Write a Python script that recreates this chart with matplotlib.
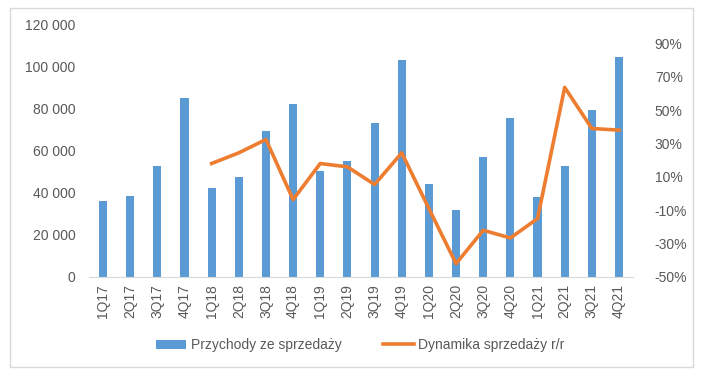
import numpy as np
import matplotlib.pyplot as plt
from matplotlib.patches import Rectangle

quarters = ['1Q17', '2Q17', '3Q17', '4Q17', '1Q18', '2Q18', '3Q18', '4Q18', '1Q19', '2Q19',
            '3Q19', '4Q19', '1Q20', '2Q20', '3Q20', '4Q20', '1Q21', '2Q21', '3Q21', '4Q21']
revenue = [36100, 38500, 52900, 85400, 42600, 47500, 69600, 82400, 50500, 55300,
           73300, 103300, 44500, 32100, 57200, 75800, 37900, 52900, 79400, 104600]
# y/y dynamics in %, starts from 1Q18
dyn_quarters = quarters[4:]
dynamics = [18.0, 24.4, 32.4, -3.6, 18.0, 16.0, 5.4, 24.4, -9.0, -42.0,
            -22.0, -26.6, -15.0, 63.6, 39.0, 38.0]

plt.rcParams['font.family'] = ['Liberation Sans', 'DejaVu Sans']
txt = '#595959'

fig = plt.figure(figsize=(7.05, 3.83), dpi=100)
fig.patches.append(Rectangle((10/705, 16/383), 683/705, 359/383, transform=fig.transFigure,
                             fill=False, edgecolor='#d9d9d9', linewidth=1))

ax = fig.add_axes([89.4/705, 106/383, 543.2/705, 252/383])
x = np.arange(len(quarters))
ax.bar(x, revenue, width=0.3, color='#5B9BD5', label='Przychody ze sprzedaży')
ax.set_xlim(-0.5, len(quarters) - 0.5)
ax.set_ylim(0, 120000)
ax.set_yticks(np.arange(0, 120001, 20000))
ax.set_yticklabels([f'{v:,}'.replace(',', ' ') for v in range(0, 120001, 20000)])
ax.set_xticks(x)
ax.set_xticklabels(quarters, rotation=90)
for s in ['top', 'right', 'left']:
    ax.spines[s].set_visible(False)
ax.spines['bottom'].set_color('#d9d9d9')
ax.tick_params(axis='both', length=0, colors=txt, labelsize=10)
ax.tick_params(axis='y', pad=10)
ax.tick_params(axis='x', pad=5)

ax2 = ax.twinx()
xd = np.arange(4, len(quarters))
ax2.plot(xd, dynamics, color='#ED7D31', linewidth=2.6, label='Dynamika sprzedaży r/r',
         solid_joinstyle='round')
ax2.set_ylim(-50, 101)
ax2.set_yticks(np.arange(-50, 91, 20))
ax2.set_yticklabels([f'{v}%' for v in range(-50, 91, 20)])
for s in ax2.spines.values():
    s.set_visible(False)
ax2.tick_params(axis='y', length=0, colors=txt, labelsize=10, pad=16)

h1, l1 = ax.get_legend_handles_labels()
h2, l2 = ax2.get_legend_handles_labels()
fig.legend(h1 + h2, l1 + l2, loc='center', bbox_to_anchor=(360/705, 1 - 345/383), ncol=2,
           frameon=False, fontsize=10, labelcolor=txt, handlelength=2.2, handleheight=0.6,
           columnspacing=3, handletextpad=0.3)

fig.savefig('out.png', dpi=100)
